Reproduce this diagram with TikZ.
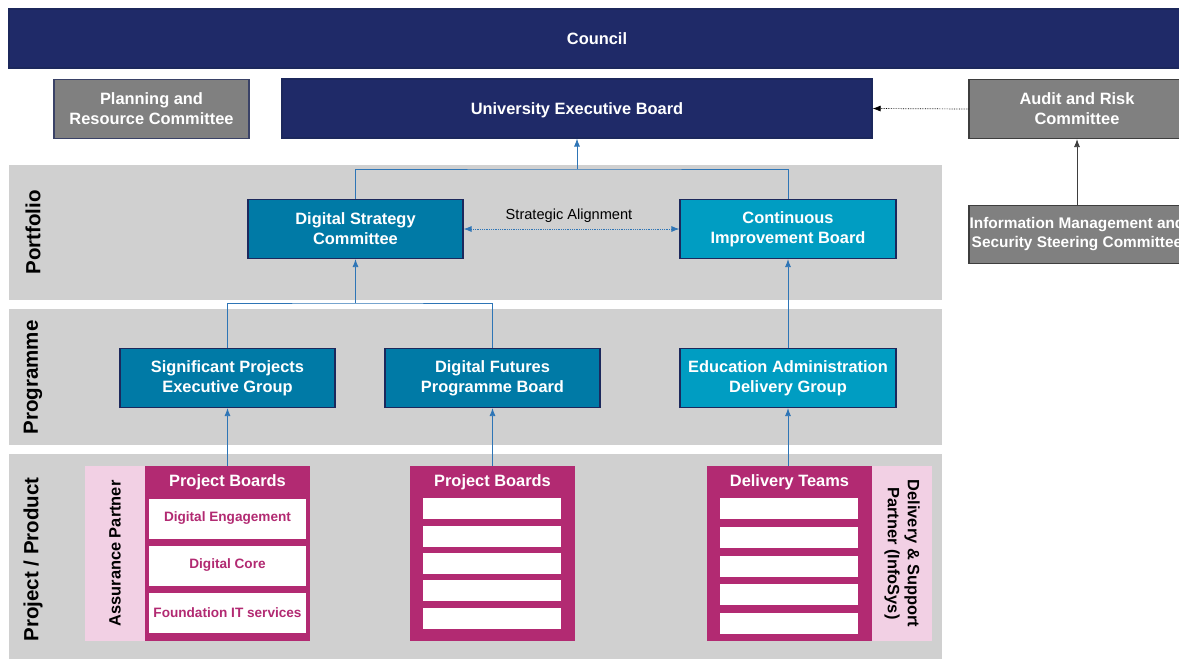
\documentclass[tikz,border=0pt]{standalone}
\usepackage{fontspec}
\setmainfont{Liberation Sans}
\usetikzlibrary{arrows.meta}

\definecolor{councilnavy}{RGB}{31,42,104}
\definecolor{edgenavy}{RGB}{28,40,92}
\definecolor{boxgray}{RGB}{128,128,128}
\definecolor{edgegray}{RGB}{62,62,62}
\definecolor{bandgray}{RGB}{208,208,208}
\definecolor{deepteal}{RGB}{0,122,166}
\definecolor{brightcyan}{RGB}{0,157,194}
\definecolor{boardpink}{RGB}{178,42,114}
\definecolor{partnerpink}{RGB}{242,208,228}
\definecolor{linkblue}{RGB}{46,117,182}

\newcommand\headfont{\bfseries\fontsize{16.4}{20}\selectfont}
\newcommand\itemfont{\bfseries\fontsize{13.6}{16}\selectfont}

\tikzset{
  box/.style={draw=edgenavy, line width=1.2pt, text=white, font=\headfont,
    align=center, inner sep=0pt},
  grayBox/.style={box, fill=boxgray, draw=edgegray},
  board/.style={fill=boardpink, inner sep=0pt, minimum width=165pt, minimum height=175pt},
  slot/.style={fill=white, inner sep=0pt, text=boardpink, font=\itemfont},
  band/.style={fill=bandgray, draw=none},
  bandlabel/.style={rotate=90, font=\bfseries\fontsize{20.5}{24}\selectfont},
  link/.style={draw=linkblue, line width=0.8pt},
  up/.style={-{Latex[length=8pt,width=6pt]}},
}

\begin{document}
\begin{tikzpicture}[x=1pt, y=-1pt]
\clip (0,0) rectangle (1179,659);

% Drawing the three level bands
\fill [band] (9,165) rectangle (942,300);%
\fill [band] (9,309) rectangle (942,445);%
\fill [band] (9,454) rectangle (942,665);%
\node [bandlabel] (portfolio) at (33,232.5) {Portfolio};%
\node [bandlabel] (programme) at (33,377.5) {Programme};%
\node [bandlabel] (project) at (33,559.5) {Project / Product};%

% Drawing the governing bodies
\node [box, fill=councilnavy, minimum width=1176pt, minimum height=59pt] (council) at (597,38.5) {Council};%
\node [grayBox, draw=edgenavy!70!gray, minimum width=195pt, minimum height=59pt] (planning) at (151.5,109) {Planning and\\Resource Committee};%
\node [box, fill=councilnavy, minimum width=590pt, minimum height=59pt, text depth=0pt] (ueb) at (577,108.5) {University Executive Board};%
\node [grayBox, minimum width=216pt, minimum height=59pt] (audit) at (1077,109) {Audit and Risk\\Committee};%
\node [grayBox, minimum width=216pt, minimum height=58pt, font=\bfseries\fontsize{15.4}{19}\selectfont] (infosec) at (1077,234.5) {Information Management and\\Security Steering Committee};%

% Drawing portfolio boxes
\node [box, fill=deepteal, minimum width=215pt, minimum height=59pt] (dsc) at (355.5,229) {Digital Strategy\\Committee};%
\node [box, fill=brightcyan, minimum width=216pt, minimum height=59pt] (cib) at (788,229) {Continuous\\Improvement Board};%
\node [font=\fontsize{14.6}{17}\selectfont] (align) at (569,215.5) {Strategic Alignment};%

% Drawing programme boxes
\node [box, fill=deepteal, minimum width=215pt, minimum height=59pt] (speg) at (227.5,378) {Significant Projects\\Executive Group};%
\node [box, fill=deepteal, minimum width=215pt, minimum height=59pt] (dfpb) at (492.5,378) {Digital Futures\\Programme Board};%
\node [box, fill=brightcyan, minimum width=216pt, minimum height=59pt] (eadg) at (788,378) {Education Administration\\Delivery Group};%

% Drawing project boards and delivery teams
\fill [partnerpink] (85,466) rectangle (145,641);%
\node [rotate=90, font=\headfont] (assurance) at (115,553.5) {Assurance Partner};%
\node [board] (pbsig) at (227.5,553.5) {};%
\node [text=white, font=\headfont] at (227.5,482) {Project Boards};%
\node [slot, minimum width=157pt, minimum height=40pt] (engage) at (227.5,518.5) {Digital Engagement};%
\node [slot, minimum width=157pt, minimum height=40pt] (core) at (227.5,565.5) {Digital Core};%
\node [slot, minimum width=157pt, minimum height=40pt] (foundation) at (227.5,613) {Foundation IT services};%

\node [board] (pbfut) at (492.5,553.5) {};%
\node [text=white, font=\headfont] at (492.5,482) {Project Boards};%
\foreach \i in {0,...,4}
  \node [slot, minimum width=138pt, minimum height=21pt] (futslot\i) at (492,{508.8+27.3*\i}) {};%

\node [board] (teams) at (789.5,553.5) {};%
\node [text=white, font=\headfont] at (789.5,482) {Delivery Teams};%
\foreach \i in {0,...,4}
  \node [slot, minimum width=138pt, minimum height=21pt] (teamslot\i) at (789,{508.8+28.6*\i}) {};%
\fill [partnerpink] (872,466) rectangle (932,641);%
\node [rotate=-90, align=center, font=\headfont] (infosys) at (902,553.5) {Delivery \& Support\\Partner (InfoSys)};%

% Drawing reporting lines
\coordinate (portjoin) at (577,169);%
\coordinate (progjoin) at (355.5,303);%
\draw [link] (dsc.north) |- (portjoin) -| (cib.north);%
\draw [link, up] (portjoin) -- (ueb.south);%
\draw [link] (speg.north) |- (progjoin) -| (dfpb.north);%
\draw [link, up] (progjoin) -- (dsc.south);%
\draw [link, up] (eadg.north) -- (cib.south);%
\draw [link, up] (pbsig.north) -- (speg.south);%
\draw [link, up] (pbfut.north) -- (dfpb.south);%
\draw [link, up] (teams.north -| eadg.south) -- (eadg.south);%
\draw [link, densely dotted, {Latex[length=8pt,width=6pt]}-{Latex[length=8pt,width=6pt]}] (dsc.east) -- (cib.west);%
\draw [line width=0.7pt, densely dotted, up] (audit.west) -- (ueb.east);%
\draw [line width=0.8pt, draw=edgegray, up] (infosec.north) -- (audit.south);%
\end{tikzpicture}
\end{document}
